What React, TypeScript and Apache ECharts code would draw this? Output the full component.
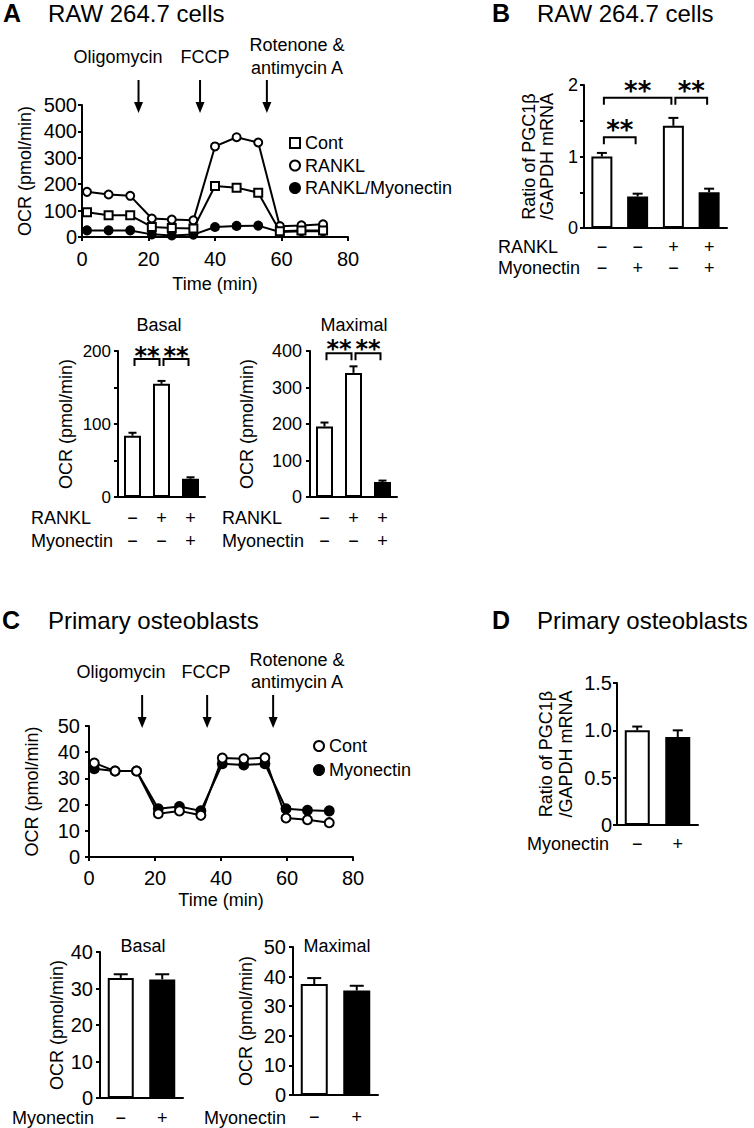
import React, { useEffect, useRef } from "react";
import * as echarts from "echarts";

const FONT = '"Liberation Sans", Arial, Helvetica, sans-serif';
const STAR_FONT = '"DejaVu Sans", sans-serif';

// ---------- Panel A: RAW 264.7 time course ----------
const timeA = [1.5, 8, 14.5, 21, 27, 33.5, 40, 46.5, 53, 59.5, 66, 72.5];
const contA = [94, 82, 82, 38, 34, 32, 193, 187, 168, 22, 25, 25];
const ranklA = [171, 161, 156, 70, 66, 63, 343, 378, 358, 41, 44, 48];
const ranklMyoA = [25, 25, 25, 10, 6, 9, 38, 42, 43, 19, 22, 22];
const injectTimesA = [17, 35.5, 55.6];

// ---------- Panel A: Basal / Maximal ----------
const ranklSignsA = ["−", "+", "+"];
const myoSignsA = ["−", "−", "+"];
const basalA = [84, 155, 25];
const basalErrA = [4, 4, 2];
const maximalA = [193, 340, 41];
const maximalErrA = [11, 18, 4];
const bracketPairsA = [[0, 1], [1, 2]];
const starsA = ["**", "**"];

// ---------- Panel B ----------
const ranklSignsB = ["−", "−", "+", "+"];
const myoSignsB = ["−", "+", "−", "+"];
const pgcB = [1.0, 0.44, 1.43, 0.5];
const pgcErrB = [0.05, 0.04, 0.11, 0.05];
const bracketPairsB = [[0, 1], [0, 2], [2, 3]];
const starsB = ["**", "**", "**"];

// ---------- Panel C: primary osteoblasts time course ----------
const timeC = [1.6, 7.9, 14.4, 21, 27.4, 33.9, 40.4, 46.9, 53.3, 59.7, 66.2, 72.8];
const contC = [35.9, 32.8, 32.8, 16.5, 17.6, 15.9, 37.8, 37.5, 37.9, 14.9, 14.2, 13.1];
const myoC = [33.7, 32.8, 32.8, 18.4, 19.3, 17.6, 35.6, 35.1, 35.6, 18.4, 17.8, 17.6];
const injectTimesC = [16.1, 35.8, 55.8];

// ---------- Panel C: Basal / Maximal ----------
const myoSignsC = ["−", "+"];
const basalC = [32.9, 32.5];
const basalErrC = [1.0, 1.4];
const maximalC = [37.5, 35.3];
const maximalErrC = [2.0, 1.6];

// ---------- Panel D ----------
const myoSignsD = ["−", "+"];
const pgcD = [1.0, 0.93];
const pgcErrD = [0.04, 0.07];

const injectionLabels = ["Oligomycin", "FCCP", "Rotenone &\nantimycin A"];

const BLACK = "#000";
const axLine = { show: true, onZero: false, lineStyle: { color: BLACK, width: 2 } };
const axTick = { show: true, length: 4, lineStyle: { color: BLACK, width: 2 } };

function yAxis(gi: number, min: number, max: number, interval: number, fs: number, margin: number, name: string, nameGap: number, fmt?: (v: number) => string, lh?: number) {
  return {
    gridIndex: gi, type: "value", min, max, interval,
    name, nameLocation: "middle", nameGap,
    nameTextStyle: { fontSize: 18, color: BLACK, fontFamily: FONT, lineHeight: lh || 20 },
    axisLine: axLine, axisTick: axTick,
    axisLabel: { color: BLACK, fontSize: fs, fontFamily: FONT, margin, formatter: fmt },
    splitLine: { show: false },
  };
}

function timeAxis(gi: number, nameGap: number, margin: number) {
  return {
    gridIndex: gi, type: "value", min: 0, max: 80, interval: 20,
    name: "Time (min)", nameLocation: "middle", nameGap,
    nameTextStyle: { fontSize: 18, color: BLACK, fontFamily: FONT },
    axisLine: axLine, axisTick: axTick,
    axisLabel: { color: BLACK, fontSize: 20, fontFamily: FONT, margin },
    splitLine: { show: false },
  };
}

function catAxis(gi: number, labels: string[], lineHeight: number, margin: number) {
  return {
    gridIndex: gi, type: "category", data: labels,
    axisLine: axLine, axisTick: { show: false },
    axisLabel: { interval: 0, color: BLACK, fontSize: 18, fontFamily: FONT, lineHeight, margin },
    splitLine: { show: false },
  };
}

function barSeries(gi: number, values: number[], myo: string[], barWidth: number) {
  return {
    type: "bar", xAxisIndex: gi, yAxisIndex: gi, barWidth, silent: true, z: 2,
    itemStyle: { borderColor: BLACK, borderWidth: 2 },
    data: values.map((v, i) => ({ value: v, itemStyle: { color: myo[i] === "+" ? BLACK : "#fff" } })),
  };
}

function errSeries(gi: number, values: number[], errs: number[], cap: number) {
  return {
    type: "custom", xAxisIndex: gi, yAxisIndex: gi, clip: false, silent: true, z: 3,
    data: values.map((v, i) => [i, v, errs[i]]),
    encode: { x: 0, y: 1 },
    renderItem: (_p: any, api: any) => {
      const i = api.value(0), v = api.value(1), e = api.value(2);
      const a = api.coord([i, v]);
      const b = api.coord([i, v + e]);
      const st = { stroke: BLACK, lineWidth: 2 };
      return {
        type: "group", children: [
          { type: "line", shape: { x1: a[0], y1: a[1], x2: b[0], y2: b[1] }, style: st },
          { type: "line", shape: { x1: b[0] - cap / 2, y1: b[1], x2: b[0] + cap / 2, y2: b[1] }, style: st },
        ],
      };
    },
  };
}

function bracketSeries(gi: number, pairs: number[][], levels: number[], stars: string[], leg: number, inset: number, starSize: number, starRaise: number) {
  return {
    type: "custom", xAxisIndex: gi, yAxisIndex: gi, clip: false, silent: true, z: 4,
    data: pairs.map((p, i) => [p[0], p[1], levels[i]]),
    encode: { x: [0, 1], y: 2 },
    renderItem: (params: any, api: any) => {
      const a = api.coord([api.value(0), api.value(2)]);
      const b = api.coord([api.value(1), api.value(2)]);
      const x1 = a[0] + inset, x2 = b[0] - inset, y = a[1];
      return {
        type: "group", children: [
          { type: "polyline", shape: { points: [[x1, y + leg], [x1, y], [x2, y], [x2, y + leg]] }, style: { stroke: BLACK, lineWidth: 2, fill: "none" } },
          { type: "text", x: (x1 + x2) / 2, y: y - starRaise, style: { text: stars[params.dataIndex], fontSize: starSize, fontFamily: STAR_FONT, fontWeight: "bold", fill: BLACK, align: "center", verticalAlign: "middle" } },
        ],
      };
    },
  };
}

function arrowSeries(gi: number, times: number[], yTop: number, above: number, below: number) {
  return {
    type: "custom", xAxisIndex: gi, yAxisIndex: gi, clip: false, silent: true, z: 5,
    data: times.map((t) => [t, yTop]),
    encode: { x: 0, y: 1 },
    renderItem: (_p: any, api: any) => {
      const p = api.coord([api.value(0), api.value(1)]);
      const x = p[0], y0 = p[1] - above, tip = p[1] + below;
      return {
        type: "group", children: [
          { type: "line", shape: { x1: x, y1: y0, x2: x, y2: tip - 8 }, style: { stroke: BLACK, lineWidth: 2 } },
          { type: "polygon", shape: { points: [[x - 4.5, tip - 11], [x + 4.5, tip - 11], [x, tip]] }, style: { fill: BLACK } },
        ],
      };
    },
  };
}

function lineSeries(gi: number, name: string, t: number[], v: number[], symbol: string, size: number, filled: boolean, z: number) {
  return {
    type: "line", name, xAxisIndex: gi, yAxisIndex: gi, silent: true, z,
    data: t.map((x, i) => [x, v[i]]),
    symbol, symbolSize: size, showAllSymbol: true,
    lineStyle: { color: BLACK, width: 2 },
    itemStyle: { color: filled ? BLACK : "#fff", borderColor: BLACK, borderWidth: 2 },
  };
}

function txt(x: number, y: number, text: string, o: any = {}) {
  return {
    type: "text", x, y, silent: true,
    style: {
      text, fill: BLACK, fontFamily: FONT, fontSize: o.fontSize || 18, fontWeight: o.fontWeight || "normal",
      align: o.align || "left", verticalAlign: "middle", lineHeight: o.lineHeight,
    },
  };
}

const openItem = { color: "#fff", borderColor: BLACK, borderWidth: 2 };
const filledItem = { color: BLACK, borderColor: BLACK, borderWidth: 2 };

export default function App() {
  const ref = useRef<HTMLDivElement>(null);
  useEffect(() => {
    if (!ref.current) return;
    const chart = echarts.init(ref.current, undefined, { renderer: "svg" });
    const labelsA = ranklSignsA.map((r, i) => r + "\n" + myoSignsA[i]);
    const labelsB = ranklSignsB.map((r, i) => r + "\n" + myoSignsB[i]);
    const intFmt = (v: number) => (Number.isInteger(v) ? String(v) : "");
    const h100 = (v: number) => (v % 100 === 0 ? String(v) : "");
    const dFmt = (v: number) => (v === 0 ? "0" : v.toFixed(1));
    const pgcName = "Ratio of PGC1β\n/GAPDH mRNA";
    const ocr = "OCR (pmol/min)";

    const option: any = {
      animation: false,
      backgroundColor: "#fff",
      textStyle: { fontFamily: FONT },
      grid: [
        { left: 82, top: 105, width: 266, height: 132 },
        { left: 584, top: 85, width: 143, height: 143 },
        { left: 118, top: 351, width: 87, height: 146 },
        { left: 310, top: 351, width: 87, height: 146 },
        { left: 89, top: 726, width: 264, height: 131 },
        { left: 617, top: 683, width: 81, height: 142 },
        { left: 100, top: 952, width: 83, height: 146 },
        { left: 293, top: 947, width: 85, height: 148 },
      ],
      xAxis: [
        timeAxis(0, 38, 12),
        catAxis(1, labelsB, 21, 8),
        catAxis(2, labelsA, 23, 9),
        catAxis(3, labelsA, 23, 9),
        timeAxis(4, 34, 11),
        catAxis(5, myoSignsD, 20, 9),
        catAxis(6, myoSignsC, 20, 10),
        catAxis(7, myoSignsC, 20, 12),
      ],
      yAxis: [
        yAxis(0, 0, 500, 100, 20, 5, ocr, 47),
        yAxis(1, 0, 2, 0.5, 18, 6, pgcName, 28, intFmt, 18),
        yAxis(2, 0, 200, 50, 17, 7, ocr, 42, h100),
        yAxis(3, 0, 400, 100, 18, 8, ocr, 53),
        yAxis(4, 0, 50, 10, 20, 9, ocr, 47),
        yAxis(5, 0, 1.5, 0.5, 20, 5, pgcName, 41, dFmt, 20),
        yAxis(6, 0, 40, 10, 20, 7, ocr, 33),
        yAxis(7, 0, 50, 10, 20, 7, ocr, 37),
      ],
      legend: [
        {
          left: 289, top: 134, orient: "vertical", itemWidth: 10, itemHeight: 10, itemGap: 4.5, padding: 0,
          selectedMode: false, textStyle: { fontSize: 18, color: BLACK, fontFamily: FONT },
          data: [
            { name: "Cont", icon: "rect", itemStyle: openItem },
            { name: "RANKL", icon: "circle", itemStyle: openItem },
            { name: "RANKL/Myonectin", icon: "circle", itemStyle: filledItem },
          ],
        },
        {
          left: 313, top: 737, orient: "vertical", itemWidth: 10, itemHeight: 10, itemGap: 6, padding: 0,
          selectedMode: false, textStyle: { fontSize: 18, color: BLACK, fontFamily: FONT },
          data: [
            { name: "Cont", icon: "circle", itemStyle: openItem },
            { name: "Myonectin", icon: "circle", itemStyle: filledItem },
          ],
        },
      ],
      series: [
        // A time course
        lineSeries(0, "RANKL/Myonectin", timeA, ranklMyoA, "circle", 8, true, 2),
        lineSeries(0, "RANKL", timeA, ranklA, "circle", 8, false, 3),
        lineSeries(0, "Cont", timeA, contA, "rect", 8, false, 4),
        arrowSeries(0, injectTimesA, 500, 25, 8),
        // B
        barSeries(1, pgcB, myoSignsB, 21),
        errSeries(1, pgcB, pgcErrB, 10),
        bracketSeries(1, bracketPairsB, [1.27, 1.82, 1.82], starsB, 7, 2, 26, 7),
        // A basal / maximal
        barSeries(2, basalA, myoSignsA, 17),
        errSeries(2, basalA, basalErrA, 8),
        bracketSeries(2, bracketPairsA, [189, 189], starsA, 7, 2, 24, 3),
        barSeries(3, maximalA, myoSignsA, 17),
        errSeries(3, maximalA, maximalErrA, 8),
        bracketSeries(3, bracketPairsA, [394, 394], starsA, 7, 2, 24, 4),
        // C time course
        lineSeries(4, "Myonectin", timeC, myoC, "circle", 9, true, 2),
        lineSeries(4, "Cont", timeC, contC, "circle", 9, false, 3),
        arrowSeries(4, injectTimesC, 50, 31, 2),
        // D
        barSeries(5, pgcD, myoSignsD, 25),
        errSeries(5, pgcD, pgcErrD, 10),
        // C basal / maximal
        barSeries(6, basalC, myoSignsC, 26),
        errSeries(6, basalC, basalErrC, 14),
        barSeries(7, maximalC, myoSignsC, 27),
        errSeries(7, maximalC, maximalErrC, 14),
      ],
      graphic: [
        txt(3, 13, "A", { fontSize: 25, fontWeight: "bold" }),
        txt(48, 13, "RAW 264.7 cells", { fontSize: 24 }),
        txt(492, 13, "B", { fontSize: 25, fontWeight: "bold" }),
        txt(537, 13, "RAW 264.7 cells", { fontSize: 24 }),
        txt(2, 620, "C", { fontSize: 25, fontWeight: "bold" }),
        txt(48, 620, "Primary osteoblasts", { fontSize: 24 }),
        txt(492, 620, "D", { fontSize: 25, fontWeight: "bold" }),
        txt(537, 620, "Primary osteoblasts", { fontSize: 24 }),
        // A injection labels
        txt(118, 57, injectionLabels[0], { align: "center" }),
        txt(205, 57, injectionLabels[1], { align: "center" }),
        txt(297, 56, injectionLabels[2], { align: "center", lineHeight: 23 }),
        // C injection labels
        txt(121, 672, injectionLabels[0], { align: "center" }),
        txt(206, 672, injectionLabels[1], { align: "center" }),
        txt(297, 671, injectionLabels[2], { align: "center", lineHeight: 22 }),
        // subplot titles
        txt(159, 325, "Basal", { align: "center" }),
        txt(354, 325, "Maximal", { align: "center" }),
        txt(143, 946, "Basal", { align: "center" }),
        txt(337, 946, "Maximal", { align: "center" }),
        // row labels
        txt(31, 518, "RANKL"), txt(31, 541, "Myonectin"),
        txt(222, 518, "RANKL"), txt(222, 541, "Myonectin"),
        txt(498, 247, "RANKL"), txt(498, 268, "Myonectin"),
        txt(527, 844, "Myonectin"),
        txt(12, 1118, "Myonectin"),
        txt(204, 1118, "Myonectin"),
      ],
    };
    chart.setOption(option);
    return () => chart.dispose();
  }, []);
  return (
    <div
      ref={ref}
      style={{ position: "absolute", left: 0, top: 0, width: 754, height: 1128, background: "#fff" }}
    />
  );
}
